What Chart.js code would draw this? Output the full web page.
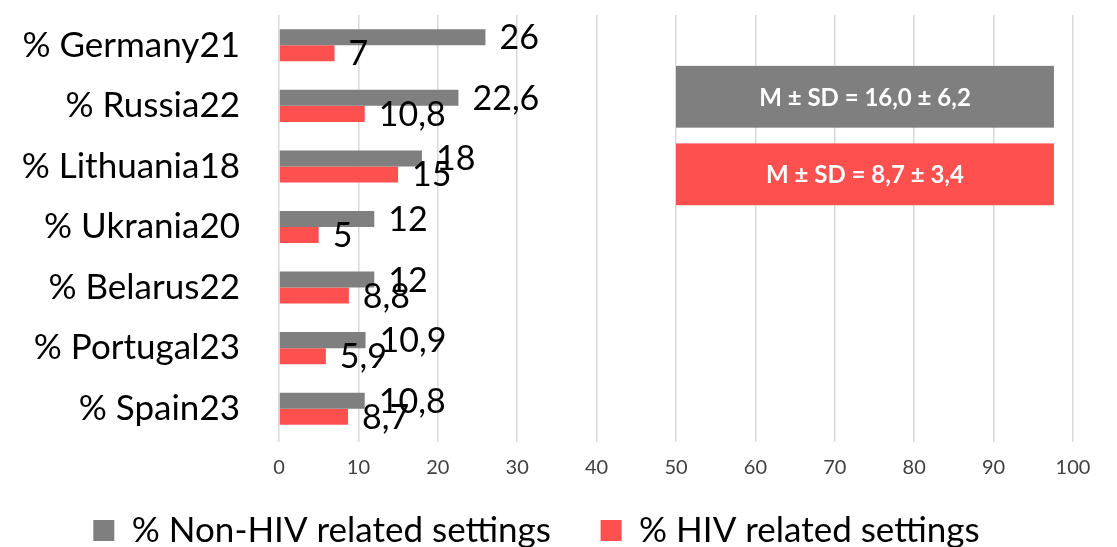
<!DOCTYPE html>
<html>
<head>
<meta charset="utf-8">
<script src="https://cdn.jsdelivr.net/npm/chart.js@4/dist/chart.umd.min.js"></script>
<style>
  html, body { margin: 0; padding: 0; background: #fff; }
  #wrap { width: 1117px; height: 547px; }
</style>
</head>
<body>
<div id="wrap"><canvas id="myChart"></canvas></div>
<script>
const countries = ['% Germany21', '% Russia22', '% Lithuania18', '% Ukrania20', '% Belarus22', '% Portugal23', '% Spain23'];
const nonHiv = [26, 22.6, 18, 12, 12, 10.9, 10.8];
const hiv = [7, 10.8, 15, 5, 8.8, 5.9, 8.7];
const seriesNames = ['% Non-HIV related settings', '% HIV related settings'];
const summaryText = ['M ± SD = 16,0 ± 6,2', 'M ± SD = 8,7 ± 3,4'];
const xTicks = [0, 10, 20, 30, 40, 50, 60, 70, 80, 90, 100];

const GREY = '#7f7f7f';
const RED = '#ff5050';
const FONT = 'Lato, "Open Sans", sans-serif';

const fmt = v => String(v).replace('.', ',');

// value labels next to the end of each bar
const barLabels = {
  id: 'barLabels',
  afterDatasetsDraw(chart) {
    const ctx = chart.ctx;
    ctx.save();
    ctx.font = '34px ' + FONT;
    ctx.fillStyle = '#000';
    ctx.textAlign = 'left';
    ctx.textBaseline = 'middle';
    chart.data.datasets.forEach((ds, i) => {
      chart.getDatasetMeta(i).data.forEach((el, j) => {
        ctx.fillText(fmt(ds.data[j]), el.x + 14, el.y + 1);
      });
    });
    ctx.restore();
  }
};

// the two "M ± SD" boxes on the right
const summaryBoxes = {
  id: 'summaryBoxes',
  afterDatasetsDraw(chart) {
    const x = chart.scales.x, y = chart.scales.y, ctx = chart.ctx;
    const rows = [[0.34, 1.36], [1.62, 2.64]];
    const colors = [GREY, RED];
    ctx.save();
    rows.forEach((r, i) => {
      const x0 = x.getPixelForValue(50), x1 = x.getPixelForValue(97.6);
      const y0 = y.getPixelForValue(r[0]), y1 = y.getPixelForValue(r[1]);
      ctx.fillStyle = colors[i];
      ctx.fillRect(x0, y0, x1 - x0, y1 - y0);
      ctx.fillStyle = '#fff';
      ctx.font = 'bold 24px ' + FONT;
      ctx.textAlign = 'center';
      ctx.textBaseline = 'middle';
      ctx.fillText(summaryText[i], (x0 + x1) / 2, (y0 + y1) / 2 + 1);
    });
    ctx.restore();
  }
};

const data = {
  labels: countries,
  datasets: [
    { label: seriesNames[0], data: nonHiv, backgroundColor: GREY },
    { label: seriesNames[1], data: hiv, backgroundColor: RED }
  ]
};

const config = {
  type: 'bar',
  data: data,
  options: {
    indexAxis: 'y',
    responsive: true,
    maintainAspectRatio: false,
    animation: false,
    datasets: { bar: { barPercentage: 1, categoryPercentage: 0.53 } },
    layout: { padding: { top: 15, right: 44, left: 0, bottom: 0 } },
    scales: {
      x: {
        min: 0, max: 100,
        afterBuildTicks: s => { s.ticks = xTicks.map(v => ({ value: v })); },
        grid: { color: '#d9d9d9', lineWidth: 1.5, tickLength: 3 },
        border: { display: false },
        ticks: { font: { family: FONT, size: 20 }, color: '#404040', padding: 14 }
      },
      y: {
        afterFit: s => { s.width = 279; s.paddingTop = 0; s.paddingBottom = 0; },
        grid: { display: false, drawTicks: false },
        border: { display: false },
        ticks: { font: { family: FONT, size: 35 }, color: '#000', padding: 39 }
      }
    },
    plugins: {
      tooltip: { enabled: false },
      legend: {
        position: 'bottom',
        maxHeight: 53,
        labels: {
          font: { family: FONT, size: 35 },
          color: '#000',
          boxWidth: 21, boxHeight: 21,
          padding: 19,
          generateLabels: chart => {
            const items = Chart.defaults.plugins.legend.labels.generateLabels(chart);
            items[0].text += '\u2003\u2009';
            return items;
          }
        }
      }
    }
  },
  plugins: [barLabels, summaryBoxes]
};

const myChart = new Chart(document.getElementById('myChart'), config);
</script>
</body>
</html>
